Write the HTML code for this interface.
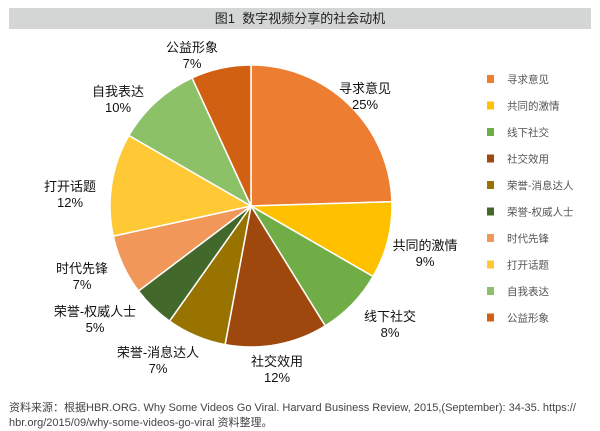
<!DOCTYPE html>
<html><head><meta charset="utf-8"><style>
body{margin:0;width:600px;height:431px;background:#fff;font-family:"Liberation Sans","Noto Sans CJK SC",sans-serif;overflow:hidden;position:relative}
#title{position:absolute;left:9px;top:8px;width:582px;height:21px;background:#d4d5d5;text-align:center;font-size:13px;line-height:21px;color:#222}
#foot{position:absolute;left:9px;top:401px;width:590px;font-size:11px;line-height:15px;color:#444;white-space:nowrap}
</style></head><body>
<div id="title">图1&nbsp; 数字视频分享的社会动机</div>
<svg id="chart" width="600" height="431" style="position:absolute;left:0;top:0"></svg>
<div id="foot">资料来源：根据HBR.ORG. Why Some Videos Go Viral. Harvard Business Review, 2015,(September): 34-35. https://<br>hbr.org/2015/09/why-some-videos-go-viral 资料整理。</div>
<script>
const categories=["寻求意见","共同的激情","线下社交","社交效用","荣誉-消息达人","荣誉-权威人士","时代先锋","打开话题","自我表达","公益形象"];
const values=[25,9,8,12,7,5,7,12,10,7];
const percentLabels=["25%","9%","8%","12%","7%","5%","7%","12%","10%","7%"];
const colors=["#ED7D31","#FFC000","#70AD47","#9E480E","#997300","#43682B","#F1975A","#FFC935","#8CC168","#D26012"];
const labelPos=[[365,88],[425,245],[390,316],[277,361],[158,352],[95,311],[82,268],[70,186],[118,91],[192,47]];
const svg=document.getElementById('chart');
const NS="http://www.w3.org/2000/svg";
const cx=251,cy=206,r=141;
const total=values.reduce((a,b)=>a+b,0);
let a0=-Math.PI/2;
function pt(a,rr){return [cx+rr*Math.cos(a),cy+rr*Math.sin(a)];}
values.forEach((v,i)=>{
  const a1=a0+v/total*2*Math.PI;
  const p0=pt(a0,r),p1=pt(a1,r);
  const large=(a1-a0)>Math.PI?1:0;
  const path=document.createElementNS(NS,'path');
  path.setAttribute('d',`M${cx},${cy}L${p0[0]},${p0[1]}A${r},${r} 0 ${large} 1 ${p1[0]},${p1[1]}Z`);
  path.setAttribute('fill',colors[i]);path.setAttribute('stroke','#fff');path.setAttribute('stroke-width','1.5');
  
  
  svg.appendChild(path);
  a0=a1;
});
values.forEach((v,i)=>{
  const lx=labelPos[i][0],ly=labelPos[i][1];
  const g=document.createElementNS(NS,'text');
  g.setAttribute('x',lx);g.setAttribute('y',ly+5);
  g.setAttribute('text-anchor','middle');g.setAttribute('font-size','13');g.setAttribute('fill','#111');
  
  
  const t1=document.createElementNS(NS,'tspan');t1.setAttribute('x',lx);t1.textContent=categories[i];
  const t2=document.createElementNS(NS,'tspan');t2.setAttribute('x',lx);t2.setAttribute('dy','16');t2.textContent=percentLabels[i];
  g.appendChild(t1);g.appendChild(t2);svg.appendChild(g);
});
categories.forEach((c,i)=>{
  const y=79+i*26.5;
  const rc=document.createElementNS(NS,'rect');
  rc.setAttribute('x',487);rc.setAttribute('y',y-4);rc.setAttribute('width',7);rc.setAttribute('height',8);rc.setAttribute('fill',colors[i]);
  
  
  svg.appendChild(rc);
  const t=document.createElementNS(NS,'text');
  t.setAttribute('x',507);t.setAttribute('y',y+4);t.setAttribute('font-size','10.5');t.setAttribute('fill','#555');
  t.textContent=c;
  
  
  svg.appendChild(t);
});
</script>
</body></html>
